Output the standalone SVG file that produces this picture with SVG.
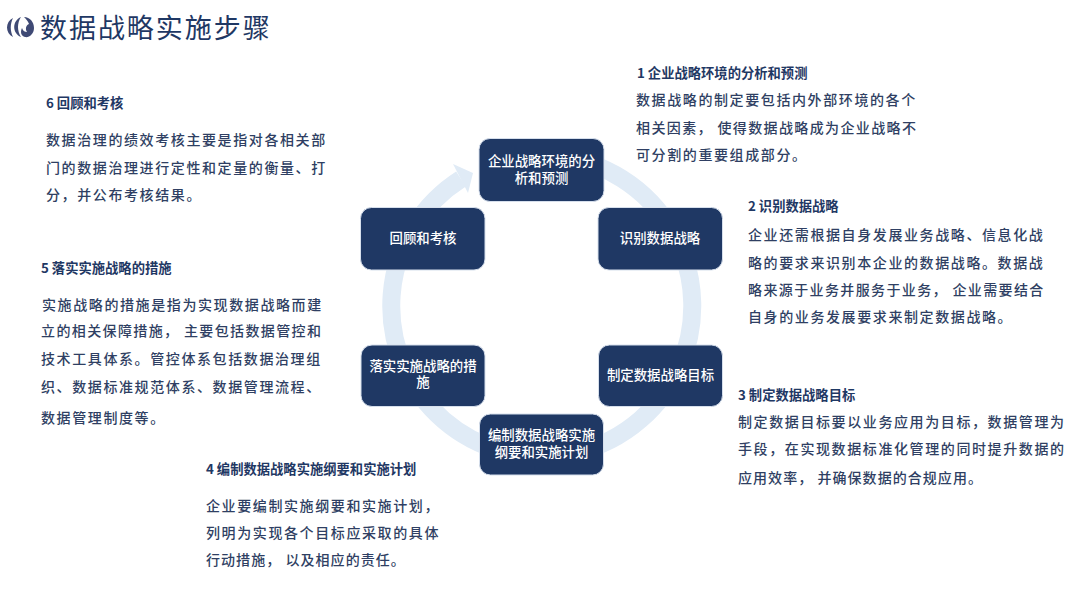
<svg xmlns="http://www.w3.org/2000/svg" width="1080" height="608" viewBox="0 0 1080 608">
<style>
text{font-family:"Noto Sans CJK SC","Noto Sans",sans-serif}
.t{font-size:27px;fill:#1f3864;letter-spacing:1.95px}
.h{font-size:13.3px;font-weight:700;fill:#1f3864}
.b{font-size:14px;font-weight:500;fill:#2f3f63;letter-spacing:1.6px}
.c{letter-spacing:1.38px}
.d{letter-spacing:1.05px}
.n{fill:#1f3864;stroke:#d6dfec;stroke-width:1}
.l{font-size:13.4px;font-weight:500;fill:#fff;text-anchor:middle}
</style>
<rect width="1080" height="608" fill="#fff"/>
<g id="logo" fill="#3f4a75">
<path d="M13 18C5 22 5 33 13 37C10 31 10 24 13 18Z"/>
<path d="M21 17C12 21 12 33 21 37C17 31 17 23 21 17Z"/>
<path d="M24 17C30 17 34 22 34 28C34 34 29 38 25 37C21 36 20 32 22 28C23 31 25 32 27 32C25 29 26 25 29 24C28 21 26 19 24 17Z"/>
</g>
<text class="t" x="40" y="38">数据战略实施步骤</text>
<g id="connectors">
<path d="M560 156.600A150.500 150.500 0 1 1 461 179" fill="none" stroke="#e0ebf6" stroke-width="18"/>
<polygon points="453,164 473,173 468,193" fill="#e0ebf6"/>
</g>
<g id="node1"><rect class="n" x="479" y="138.500" width="125" height="63" rx="11"/><text class="l"><tspan x="541.500" y="166">企业战略环境的分</tspan><tspan x="541.500" y="183">析和预测</tspan></text></g>
<g id="node2"><rect class="n" x="598" y="207.500" width="124.500" height="62.500" rx="11"/><text class="l" x="660" y="243">识别数据战略</text></g>
<g id="node3"><rect class="n" x="598.500" y="345" width="124" height="61.500" rx="11"/><text class="l" x="660.500" y="380">制定数据战略目标</text></g>
<g id="node4"><rect class="n" x="479.500" y="414" width="124" height="61" rx="11"/><text class="l"><tspan x="541.500" y="440">编制数据战略实施</tspan><tspan x="541.500" y="457">纲要和实施计划</tspan></text></g>
<g id="node5"><rect class="n" x="361" y="345" width="124" height="61.500" rx="11"/><text class="l"><tspan x="423" y="371">落实实施战略的措</tspan><tspan x="423" y="387">施</tspan></text></g>
<g id="node6"><rect class="n" x="360.500" y="207.500" width="124.500" height="62.500" rx="11"/><text class="l" x="423" y="243">回顾和考核</text></g>
<g id="text1"><text class="h" x="637" y="78">1 企业战略环境的分析和预测</text>
<text class="b" x="636" y="105">数据战略的制定要包括内外部环境的各个</text>
<text class="b c" x="636" y="133">相关因素， 使得数据战略成为企业战略不</text>
<text class="b" x="636" y="160">可分割的重要组成部分。</text></g>
<g id="text2"><text class="h" x="748" y="211">2 识别数据战略</text>
<text class="b" x="748" y="240">企业还需根据自身发展业务战略、信息化战</text>
<text class="b" x="748" y="268">略的要求来识别本企业的数据战略。数据战</text>
<text class="b c" x="748" y="295">略来源于业务并服务于业务， 企业需要结合</text>
<text class="b" x="748" y="322">自身的业务发展要求来制定数据战略。</text></g>
<g id="text3"><text class="h" x="738" y="400">3 制定数据战略目标</text>
<text class="b" x="738" y="427">制定数据目标要以业务应用为目标，数据管理为</text>
<text class="b" x="738" y="454">手段，在实现数据标准化管理的同时提升数据的</text>
<text class="b d" x="738" y="483">应用效率， 并确保数据的合规应用。</text></g>
<g id="text4"><text class="h" x="206" y="474">4 编制数据战略实施纲要和实施计划</text>
<text class="b" x="206" y="511">企业要编制实施纲要和实施计划，</text>
<text class="b" x="206" y="538">列明为实现各个目标应采取的具体</text>
<text class="b d" x="206" y="565">行动措施， 以及相应的责任。</text></g>
<g id="text5"><text class="h" x="41" y="273">5 落实实施战略的措施</text>
<text class="b" x="42" y="310">实施战略的措施是指为实现数据战略而建</text>
<text class="b c" x="41" y="336">立的相关保障措施， 主要包括数据管控和</text>
<text class="b" x="41" y="364">技术工具体系。管控体系包括数据治理组</text>
<text class="b" x="41" y="392">织、数据标准规范体系、数据管理流程、</text>
<text class="b" x="41" y="423">数据管理制度等。</text></g>
<g id="text6"><text class="h" x="46" y="108">6 回顾和考核</text>
<text class="b" x="46" y="145">数据治理的绩效考核主要是指对各相关部</text>
<text class="b" x="46" y="173">门的数据治理进行定性和定量的衡量、打</text>
<text class="b" x="46" y="200">分，并公布考核结果。</text></g>
</svg>
